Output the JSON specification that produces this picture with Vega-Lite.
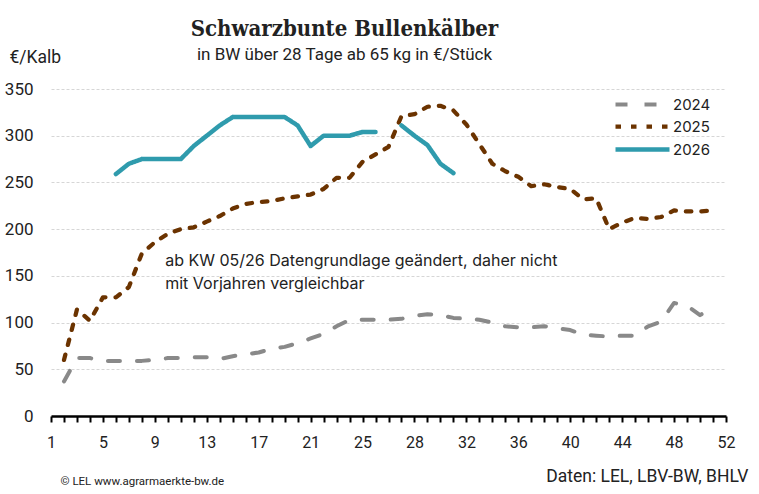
{
  "$schema": "https://vega.github.io/schema/vega-lite/v6.json",
  "width": 675,
  "height": 327,
  "autosize": {"type": "none"},
  "padding": {"left": 51, "top": 89, "right": 33, "bottom": 78},
  "background": "white",
  "title": {
    "text": "Schwarzbunte Bullenkälber",
    "subtitle": "in BW über 28 Tage ab 65 kg in €/Stück",
    "frame": "group",
    "anchor": "middle",
    "dx": -44,
    "dy": 40,
    "offset": 24,
    "font": "'DejaVu Serif Condensed', 'DejaVu Serif'",
    "fontSize": 22,
    "fontWeight": "bold",
    "color": "#222222",
    "subtitleFont": "Roboto",
    "subtitleFontSize": 17,
    "subtitleColor": "#222222",
    "subtitlePadding": 6
  },
  "data": {
    "values": [
      {"KW": 2, "Jahr": "2024", "Preis": 37}, {"KW": 3, "Jahr": "2024", "Preis": 62}, {"KW": 4, "Jahr": "2024", "Preis": 62},
      {"KW": 5, "Jahr": "2024", "Preis": 59}, {"KW": 6, "Jahr": "2024", "Preis": 59}, {"KW": 7, "Jahr": "2024", "Preis": 59},
      {"KW": 8, "Jahr": "2024", "Preis": 59}, {"KW": 9, "Jahr": "2024", "Preis": 60}, {"KW": 10, "Jahr": "2024", "Preis": 62},
      {"KW": 11, "Jahr": "2024", "Preis": 62}, {"KW": 12, "Jahr": "2024", "Preis": 63}, {"KW": 13, "Jahr": "2024", "Preis": 63},
      {"KW": 14, "Jahr": "2024", "Preis": 61}, {"KW": 15, "Jahr": "2024", "Preis": 64}, {"KW": 16, "Jahr": "2024", "Preis": 66},
      {"KW": 17, "Jahr": "2024", "Preis": 68}, {"KW": 18, "Jahr": "2024", "Preis": 72}, {"KW": 19, "Jahr": "2024", "Preis": 74},
      {"KW": 20, "Jahr": "2024", "Preis": 78}, {"KW": 21, "Jahr": "2024", "Preis": 83}, {"KW": 22, "Jahr": "2024", "Preis": 88},
      {"KW": 23, "Jahr": "2024", "Preis": 96}, {"KW": 24, "Jahr": "2024", "Preis": 103}, {"KW": 25, "Jahr": "2024", "Preis": 103},
      {"KW": 26, "Jahr": "2024", "Preis": 103}, {"KW": 27, "Jahr": "2024", "Preis": 103}, {"KW": 28, "Jahr": "2024", "Preis": 104},
      {"KW": 29, "Jahr": "2024", "Preis": 107}, {"KW": 30, "Jahr": "2024", "Preis": 109}, {"KW": 31, "Jahr": "2024", "Preis": 108},
      {"KW": 32, "Jahr": "2024", "Preis": 105}, {"KW": 33, "Jahr": "2024", "Preis": 104}, {"KW": 34, "Jahr": "2024", "Preis": 103},
      {"KW": 35, "Jahr": "2024", "Preis": 100}, {"KW": 36, "Jahr": "2024", "Preis": 96}, {"KW": 37, "Jahr": "2024", "Preis": 95},
      {"KW": 38, "Jahr": "2024", "Preis": 95}, {"KW": 39, "Jahr": "2024", "Preis": 96}, {"KW": 40, "Jahr": "2024", "Preis": 94},
      {"KW": 41, "Jahr": "2024", "Preis": 92}, {"KW": 42, "Jahr": "2024", "Preis": 87}, {"KW": 43, "Jahr": "2024", "Preis": 86},
      {"KW": 44, "Jahr": "2024", "Preis": 85}, {"KW": 45, "Jahr": "2024", "Preis": 86}, {"KW": 46, "Jahr": "2024", "Preis": 86},
      {"KW": 47, "Jahr": "2024", "Preis": 96}, {"KW": 48, "Jahr": "2024", "Preis": 101}, {"KW": 49, "Jahr": "2024", "Preis": 121},
      {"KW": 50, "Jahr": "2024", "Preis": 118}, {"KW": 51, "Jahr": "2024", "Preis": 108}, {"KW": 52, "Jahr": "2024", "Preis": 116},

      {"KW": 2, "Jahr": "2025", "Preis": 60}, {"KW": 3, "Jahr": "2025", "Preis": 114}, {"KW": 4, "Jahr": "2025", "Preis": 102},
      {"KW": 5, "Jahr": "2025", "Preis": 127}, {"KW": 6, "Jahr": "2025", "Preis": 127}, {"KW": 7, "Jahr": "2025", "Preis": 138},
      {"KW": 8, "Jahr": "2025", "Preis": 174}, {"KW": 9, "Jahr": "2025", "Preis": 186}, {"KW": 10, "Jahr": "2025", "Preis": 195},
      {"KW": 11, "Jahr": "2025", "Preis": 200}, {"KW": 12, "Jahr": "2025", "Preis": 202}, {"KW": 13, "Jahr": "2025", "Preis": 208},
      {"KW": 14, "Jahr": "2025", "Preis": 214}, {"KW": 15, "Jahr": "2025", "Preis": 222}, {"KW": 16, "Jahr": "2025", "Preis": 227},
      {"KW": 17, "Jahr": "2025", "Preis": 229}, {"KW": 18, "Jahr": "2025", "Preis": 230}, {"KW": 19, "Jahr": "2025", "Preis": 233},
      {"KW": 20, "Jahr": "2025", "Preis": 235}, {"KW": 21, "Jahr": "2025", "Preis": 237}, {"KW": 22, "Jahr": "2025", "Preis": 243},
      {"KW": 23, "Jahr": "2025", "Preis": 255}, {"KW": 24, "Jahr": "2025", "Preis": 255}, {"KW": 25, "Jahr": "2025", "Preis": 272},
      {"KW": 26, "Jahr": "2025", "Preis": 280}, {"KW": 27, "Jahr": "2025", "Preis": 288}, {"KW": 28, "Jahr": "2025", "Preis": 321},
      {"KW": 29, "Jahr": "2025", "Preis": 323}, {"KW": 30, "Jahr": "2025", "Preis": 331}, {"KW": 31, "Jahr": "2025", "Preis": 332},
      {"KW": 32, "Jahr": "2025", "Preis": 327}, {"KW": 33, "Jahr": "2025", "Preis": 312}, {"KW": 34, "Jahr": "2025", "Preis": 291},
      {"KW": 35, "Jahr": "2025", "Preis": 270}, {"KW": 36, "Jahr": "2025", "Preis": 262}, {"KW": 37, "Jahr": "2025", "Preis": 256},
      {"KW": 38, "Jahr": "2025", "Preis": 246}, {"KW": 39, "Jahr": "2025", "Preis": 248}, {"KW": 40, "Jahr": "2025", "Preis": 245},
      {"KW": 41, "Jahr": "2025", "Preis": 243}, {"KW": 42, "Jahr": "2025", "Preis": 232}, {"KW": 43, "Jahr": "2025", "Preis": 233},
      {"KW": 44, "Jahr": "2025", "Preis": 200}, {"KW": 45, "Jahr": "2025", "Preis": 207}, {"KW": 46, "Jahr": "2025", "Preis": 212},
      {"KW": 47, "Jahr": "2025", "Preis": 211}, {"KW": 48, "Jahr": "2025", "Preis": 213}, {"KW": 49, "Jahr": "2025", "Preis": 220},
      {"KW": 50, "Jahr": "2025", "Preis": 219}, {"KW": 51, "Jahr": "2025", "Preis": 219}, {"KW": 52, "Jahr": "2025", "Preis": 220},

      {"KW": 6, "Jahr": "2026", "Preis": 259}, {"KW": 7, "Jahr": "2026", "Preis": 270}, {"KW": 8, "Jahr": "2026", "Preis": 275},
      {"KW": 9, "Jahr": "2026", "Preis": 275}, {"KW": 10, "Jahr": "2026", "Preis": 275}, {"KW": 11, "Jahr": "2026", "Preis": 275},
      {"KW": 12, "Jahr": "2026", "Preis": 289}, {"KW": 13, "Jahr": "2026", "Preis": 300}, {"KW": 14, "Jahr": "2026", "Preis": 311},
      {"KW": 15, "Jahr": "2026", "Preis": 320}, {"KW": 16, "Jahr": "2026", "Preis": 320}, {"KW": 17, "Jahr": "2026", "Preis": 320},
      {"KW": 18, "Jahr": "2026", "Preis": 320}, {"KW": 19, "Jahr": "2026", "Preis": 320}, {"KW": 20, "Jahr": "2026", "Preis": 311},
      {"KW": 21, "Jahr": "2026", "Preis": 289}, {"KW": 22, "Jahr": "2026", "Preis": 300}, {"KW": 23, "Jahr": "2026", "Preis": 300},
      {"KW": 24, "Jahr": "2026", "Preis": 300}, {"KW": 25, "Jahr": "2026", "Preis": 304}, {"KW": 26, "Jahr": "2026", "Preis": 304},
      {"KW": 27, "Jahr": "2026", "Preis": null}, {"KW": 28, "Jahr": "2026", "Preis": 311}, {"KW": 29, "Jahr": "2026", "Preis": 300},
      {"KW": 30, "Jahr": "2026", "Preis": 290}, {"KW": 31, "Jahr": "2026", "Preis": 270}, {"KW": 32, "Jahr": "2026", "Preis": 260}
    ]
  },
  "layer": [
    {
      "mark": {"type": "line", "strokeCap": "round", "strokeJoin": "round", "invalid": "break-paths-show-domains"},
      "encoding": {
        "x": {
          "field": "KW",
          "type": "quantitative",
          "scale": {"domain": [1, 53], "nice": false, "zero": false},
          "axis": {
            "values": [1,2,3,4,5,6,7,8,9,10,11,12,13,14,15,16,17,18,19,20,21,22,23,24,25,26,27,28,29,30,31,32,33,34,35,36,37,38,39,40,41,42,43,44,45,46,47,48,49,50,51,52,53],
            "labelExpr": "(datum.value - 1) % 4 == 0 ? '' + (datum.value > 25 ? datum.value - 1 : datum.value) : ''",
            "labelOverlap": false,
            "labelFlush": false,
            "grid": false,
            "domainColor": "#000000",
            "domainWidth": 2.5,
            "tickColor": "#000000",
            "tickWidth": 2,
            "tickSize": 6,
            "labelPadding": 12,
            "labelFontSize": 16,
            "title": "Daten: LEL, LBV-BW, BHLV",
            "titleX": 697,
            "titleY": 65,
            "titleAlign": "right",
            "titleBaseline": "alphabetic",
            "titleFontSize": 17.5
          }
        },
        "y": {
          "field": "Preis",
          "type": "quantitative",
          "scale": {"domain": [0, 350], "nice": false},
          "axis": {
            "values": [0, 50, 100, 150, 200, 250, 300, 350],
            "title": "€/Kalb",
            "titleAngle": 0,
            "titleAlign": "left",
            "titleBaseline": "alphabetic",
            "titleX": -42,
            "titleY": -27,
            "titleFontSize": 17.5,
            "domain": false,
            "ticks": false,
            "tickSize": 0,
            "labelPadding": 18,
            "labelFontSize": 17,
            "grid": true,
            "gridColor": "#d6d6d6",
            "gridDash": [3, 2],
            "gridWidth": 1
          }
        },
        "color": {
          "field": "Jahr",
          "type": "nominal",
          "scale": {"domain": ["2024", "2025", "2026"], "range": ["#898989", "#6b3300", "#2f9bad"]},
          "legend": {"title": null, "orient": "none", "legendX": 584, "legendY": 8}
        },
        "strokeDash": {
          "field": "Jahr",
          "type": "nominal",
          "scale": {"domain": ["2024", "2025", "2026"], "range": [[12, 17], [5.5, 10], [1, 0]]},
          "legend": {"title": null, "orient": "none", "legendX": 584, "legendY": 8}
        },
        "strokeWidth": {
          "field": "Jahr",
          "type": "ordinal",
          "scale": {"domain": ["2024", "2025", "2026"], "range": [4, 4.5, 3.5]},
          "legend": null
        }
      }
    },
    {
      "data": {"values": [{}]},
      "mark": {
        "type": "text",
        "text": ["ab KW 05/26 Datengrundlage geändert, daher nicht", "mit Vorjahren vergleichbar"],
        "align": "left",
        "baseline": "middle",
        "font": "Inter",
        "fontSize": 16,
        "lineHeight": 23,
        "color": "#222222"
      },
      "encoding": {
        "x": {
          "datum": 9.8,
          "type": "quantitative",
          "axis": {
            "orient": "bottom",
            "labels": false,
            "ticks": false,
            "domain": false,
            "grid": false,
            "title": "© LEL www.agrarmaerkte-bw.de",
            "titleX": 9,
            "titleY": 68,
            "titleAlign": "left",
            "titleBaseline": "alphabetic",
            "titleFontSize": 11.5
          }
        },
        "y": {"datum": 166, "type": "quantitative"}
      }
    }
  ],
  "resolve": {"axis": {"x": "independent"}},
  "config": {
    "view": {"stroke": null},
    "axis": {
      "labelFont": "Roboto",
      "labelColor": "#222222",
      "titleFont": "Roboto",
      "titleColor": "#222222",
      "titleFontWeight": "normal"
    },
    "legend": {
      "symbolType": "M-5.4,0H5.4",
      "symbolSize": 100,
      "symbolStrokeWidth": 4,
      "labelFont": "Inter",
      "labelFontSize": 15,
      "labelColor": "#222222",
      "labelOffset": 23,
      "rowPadding": 5,
      "padding": 0
    }
  }
}
